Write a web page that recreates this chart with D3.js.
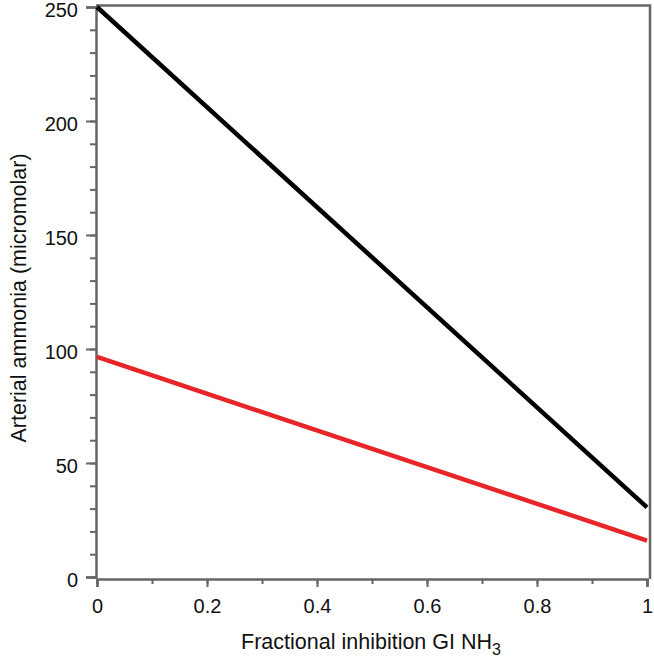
<!DOCTYPE html>
<html lang="en">
<head>
<meta charset="UTF-8">
<title>Arterial ammonia</title>
<script src="https://d3js.org/d3.v7.min.js"></script>
<style>
  body { margin: 0; background: #fff; }
  text { font-family: Arial, "Liberation Sans", sans-serif; fill: #111; }
  .tick text { font-size: 20px; }
  .axis-label { font-size: 21.5px; }
</style>
</head>
<body>
<svg width="654" height="657"></svg>
<script>
// data
const inhibition = [0, 1];
const ammoniaBlack = [250, 30.5];
const ammoniaRed = [96.5, 16];
const xTicks = [0, 0.2, 0.4, 0.6, 0.8, 1];
const yTicks = [0, 50, 100, 150, 200, 250];

const svg = d3.select("svg");
const mLeft = 97, mRight = 647, mTop = 7, mBottom = 577;

const x = d3.scaleLinear().domain([0, 1]).range([mLeft, mRight]);
const y = d3.scaleLinear().domain([0, 250]).range([mBottom, mTop]);

const axisColor = "#666";

// frame (top and right)
svg.append("path")
  .attr("d", `M${mLeft - 1},${mTop - 1.5}H${mRight + 3}V${mBottom + 2}`)
  .attr("fill", "none").attr("stroke", axisColor).attr("stroke-width", 2.5);

// minor ticks
const yMinor = svg.append("g").attr("transform", `translate(${mLeft - 1},0)`)
  .call(d3.axisLeft(y).tickValues(d3.range(0, 251, 10)).tickSize(6).tickFormat(""));
const xMinor = svg.append("g").attr("transform", `translate(0,${mBottom + 2})`)
  .call(d3.axisBottom(x).tickValues(d3.range(0, 11).map(d => d / 10)).tickSize(5).tickFormat(""));

const yAxis = svg.append("g").attr("transform", `translate(${mLeft - 1},0)`)
  .call(d3.axisLeft(y).tickValues(yTicks).tickSize(10).tickPadding(8));
const xAxis = svg.append("g").attr("transform", `translate(0,${mBottom + 2})`)
  .call(d3.axisBottom(x).tickValues(xTicks).tickSize(8).tickPadding(12)
    .tickFormat(d => d === 0 || d === 1 ? d3.format("d")(d) : d3.format(".1f")(d)));

yAxis.selectAll(".tick text").attr("dy", "0.45em");

[yMinor, xMinor, yAxis, xAxis].forEach(g => {
  g.selectAll("line").attr("stroke", axisColor).attr("stroke-width", 2);
  g.select(".domain").attr("stroke", axisColor).attr("stroke-width", 2.5);
});
[yMinor, xMinor].forEach(g => g.select(".domain").remove());

// lines
const line = d3.line().x((d, i) => x(inhibition[i])).y(d => y(d));
svg.append("path").datum(ammoniaBlack).attr("d", line)
  .attr("fill", "none").attr("stroke", "#000").attr("stroke-width", 4.5);
svg.append("path").datum(ammoniaRed).attr("d", line)
  .attr("fill", "none").attr("stroke", "#e8262a").attr("stroke-width", 4.5);

// axis labels
const xl = svg.append("text").attr("class", "axis-label")
  .attr("x", 371).attr("y", 649).attr("text-anchor", "middle");
xl.append("tspan").text("Fractional inhibition GI NH");
xl.append("tspan").attr("font-size", 16).attr("dy", 6).text("3");

svg.append("text").attr("class", "axis-label")
  .attr("transform", `translate(26,298) rotate(-90)`)
  .attr("text-anchor", "middle")
  .text("Arterial ammonia (micromolar)");
</script>
</body>
</html>
